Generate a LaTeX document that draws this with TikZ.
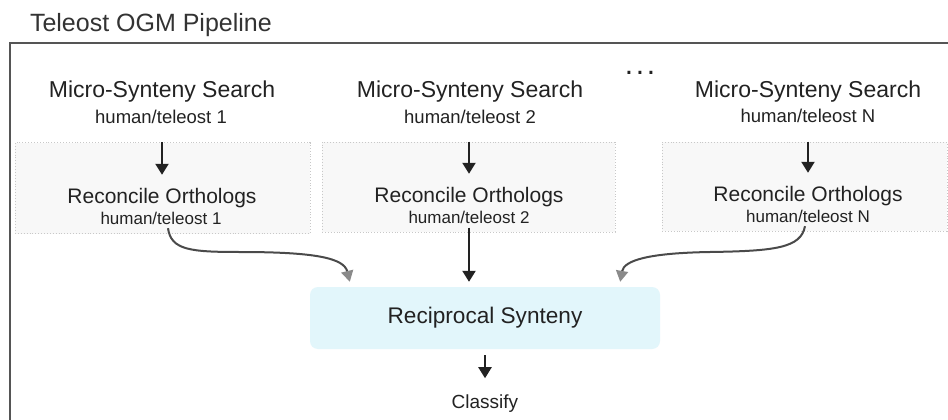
\documentclass[tikz,border=0pt]{standalone}
\usepackage{fontspec}
\setmainfont{Liberation Sans}
\usetikzlibrary{arrows.meta}
\definecolor{txt}{HTML}{222222}
\definecolor{framec}{HTML}{555555}
\definecolor{boxfill}{HTML}{F8F8F8}
\definecolor{boxline}{HTML}{C8C8C8}
\definecolor{cyanfill}{HTML}{E2F6FB}
\definecolor{curvec}{HTML}{4A4A4A}
\definecolor{curvetip}{HTML}{8A8A8A}
\newcommand{\fs}[1]{\fontsize{#1}{#1}\selectfont}
\begin{document}
\begin{tikzpicture}[x=1pt,y=-1pt,
  lbl/.style={inner sep=0pt, outer sep=0pt, anchor=base, text=txt},
  graybox/.style={draw=boxline, dotted, line width=0.9pt, fill=boxfill, inner sep=0pt},
  arr/.style={draw=txt, line width=2.2pt, -{Triangle[length=11pt,width=13pt]}},
  carr/.style={draw=curvec, line width=2pt, -{Triangle[length=11pt,width=12pt,fill=curvetip,color=curvetip]}},
  recip/.style={fill=cyanfill, rounded corners=8pt, minimum width=350pt, minimum height=62pt, inner sep=0pt, text=txt}
]
\useasboundingbox[fill=white] (0,0) rectangle (948,420);

% outer frame
\draw[framec, line width=1.5pt] (948,43) -- (10,43) -- (10,420);

% title
\node[lbl, anchor=base west, font=\fs{25}, text=black!80] (title) at (30,32) {Teleost OGM Pipeline};

% gray boxes
\node[graybox, minimum width=295pt, minimum height=91pt] (b1) at (162.5,188) {};
\node[graybox, minimum width=293pt, minimum height=90pt] (b2) at (468.5,187) {};
\node[graybox, minimum width=285pt, minimum height=89pt] (b3) at (804.5,186.5) {};

% micro-synteny search
\node[lbl, font=\fs{23}] (m1) at (162,97) {Micro-Synteny Search};
\node[lbl, font=\fs{18.5}] (m1s) at (161,123) {human/teleost 1};
\node[lbl, font=\fs{23}] (m2) at (470,97) {Micro-Synteny Search};
\node[lbl, font=\fs{18.5}] (m2s) at (470,123) {human/teleost 2};
\node[lbl, font=\fs{23}] (m3) at (808,97) {Micro-Synteny Search};
\node[lbl, font=\fs{18.5}] (m3s) at (808,122) {human/teleost N};

% dots
\node[lbl, font=\fs{30}] (dots) at (640,74.5) {.\hspace{2.7pt}.\hspace{2.7pt}.};

% reconcile
\node[lbl, font=\fs{21}] (r1) at (162,203) {Reconcile Orthologs};
\node[lbl, font=\fs{17}] (r1s) at (161,224) {human/teleost 1};
\node[lbl, font=\fs{21}] (r2) at (469,202) {Reconcile Orthologs};
\node[lbl, font=\fs{17}] (r2s) at (469,223) {human/teleost 2};
\node[lbl, font=\fs{21}] (r3) at (808,201) {Reconcile Orthologs};
\node[lbl, font=\fs{17}] (r3s) at (808,222) {human/teleost N};

% reciprocal synteny
\node[recip, font=\fs{22.6}] (rs) at (485,318) {Reciprocal Synteny};

% classify
\node[lbl, font=\fs{19}] (cl) at (485,408) {Classify};

% straight arrows
\draw[arr, shorten >=13pt] (b1.north -| r1.north) -- (r1.north);
\draw[arr, shorten >=13pt] (b2.north -| r2.north) -- (r2.north);
\draw[arr, shorten >=13pt] (b3.north -| r3.north) -- (r3.north);
\draw[arr, shorten <=4.5pt, shorten >=5pt] (r2s.south) -- (rs.north -| r2s.south);
\draw[arr, shorten <=6pt, shorten >=16pt] (rs.south) -- (cl.north);

% curved arrows
\draw[carr] ([xshift=7pt,yshift=-4pt]r1s.south)
  .. controls (171,250) and (190,252) .. (240,252)
  .. controls (315,252) and (344,258) .. ([xshift=40pt,yshift=5pt]rs.north west);
\draw[carr] ([xshift=-3pt,yshift=-4pt]r3s.south)
  .. controls (801,248) and (775,251) .. (710,252)
  .. controls (650,253) and (624,260) .. ([xshift=-40pt,yshift=5pt]rs.north east);
\end{tikzpicture}
\end{document}
